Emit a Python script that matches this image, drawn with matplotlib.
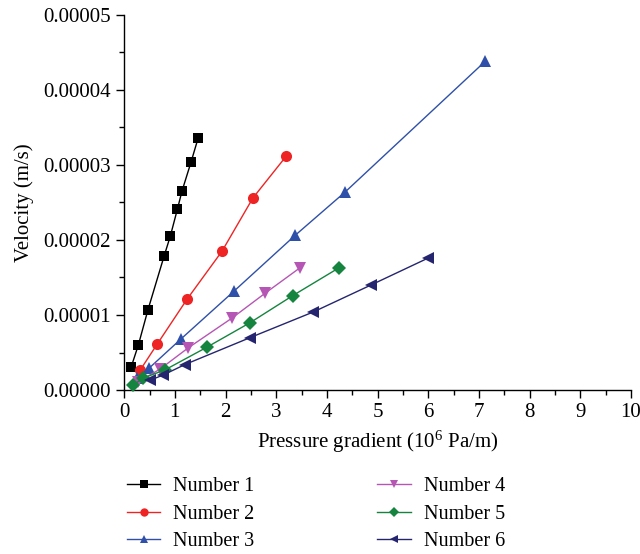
import matplotlib.pyplot as plt
from matplotlib.ticker import MultipleLocator, FormatStrFormatter

plt.rcParams['font.family'] = ['Liberation Serif', 'DejaVu Serif']
plt.rcParams['mathtext.fontset'] = 'custom'
plt.rcParams['mathtext.rm'] = 'Liberation Serif'
plt.rcParams['mathtext.it'] = 'Liberation Serif:italic'

# ---------- data ----------
labels = ['Number 1', 'Number 2', 'Number 3', 'Number 4', 'Number 5', 'Number 6']

x1 = [0.14, 0.28, 0.47, 0.79, 0.91, 1.05, 1.14, 1.32, 1.46]
y1 = [3.1e-6, 6.0e-6, 10.7e-6, 17.9e-6, 20.5e-6, 24.1e-6, 26.5e-6, 30.4e-6, 33.6e-6]

x2 = [0.32, 0.65, 1.24, 1.93, 2.54, 3.20]
y2 = [2.7e-6, 6.1e-6, 12.1e-6, 18.5e-6, 25.6e-6, 31.2e-6]

x3 = [0.25, 0.49, 1.12, 2.17, 3.37, 4.36, 7.12]
y3 = [1.6e-6, 2.9e-6, 6.8e-6, 13.2e-6, 20.6e-6, 26.4e-6, 43.8e-6]

x4 = [0.28, 0.71, 1.26, 2.13, 2.78, 3.47]
y4 = [1.1e-6, 2.8e-6, 5.6e-6, 9.6e-6, 12.9e-6, 16.3e-6]

x5 = [0.18, 0.38, 0.81, 1.63, 2.49, 3.33, 4.24]
y5 = [0.7e-6, 1.6e-6, 2.7e-6, 5.7e-6, 9.0e-6, 12.6e-6, 16.3e-6]

x6 = [0.51, 0.77, 1.20, 2.49, 3.73, 4.87, 6.00]
y6 = [1.3e-6, 2.0e-6, 3.4e-6, 7.0e-6, 10.4e-6, 14.0e-6, 17.6e-6]

xs = [x1, x2, x3, x4, x5, x6]
ys = [y1, y2, y3, y4, y5, y6]

colors = ['#000000', '#ee2424', '#2f50a8', '#b656b4', '#15843f', '#25256f']
markers = ['s', 'o', '^', 'v', 'D', '<']
sizes = [7, 8, 8.5, 8.5, 7, 8.5]

fig = plt.figure(figsize=(6.4, 5.54), dpi=100)
ax = fig.add_axes([0.194, 0.296, 0.792, 0.677])

for x, y, c, m, s, lab in zip(xs, ys, colors, markers, sizes, labels):
    ax.plot(x, y, color=c, marker=m, markersize=s, linewidth=1.0,
            markeredgewidth=0, label=lab, clip_on=False, zorder=3)

ax.set_xlim(0, 10)
ax.set_ylim(0, 0.00005)
ax.xaxis.set_major_locator(MultipleLocator(1))
ax.xaxis.set_minor_locator(MultipleLocator(0.5))
ax.yaxis.set_major_locator(MultipleLocator(0.00001))
ax.yaxis.set_minor_locator(MultipleLocator(0.000005))
ax.yaxis.set_major_formatter(FormatStrFormatter('%.5f'))

for side in ['top', 'right']:
    ax.spines[side].set_visible(False)
for side in ['left', 'bottom']:
    ax.spines[side].set_linewidth(1.0)
ax.tick_params(which='major', direction='out', length=6, width=1.0, labelsize=15)
ax.tick_params(which='minor', direction='out', length=3.5, width=1.0)

ax.set_xlabel('Pressure gradient (10$^6$ Pa/m)', fontsize=15, labelpad=5)
ax.set_ylabel('Velocity (m/s)', fontsize=15, labelpad=7)

ax.legend(loc='upper left', bbox_to_anchor=(127 / 640, 1 - 477 / 554),
          bbox_transform=fig.transFigure, ncol=2, frameon=False,
          fontsize=14.5, borderpad=0, borderaxespad=0, columnspacing=6.1,
          handlelength=1.65, handletextpad=0.65, labelspacing=0.42,
          markerscale=0.75)

fig.savefig('out.png', dpi=100, facecolor='white')
